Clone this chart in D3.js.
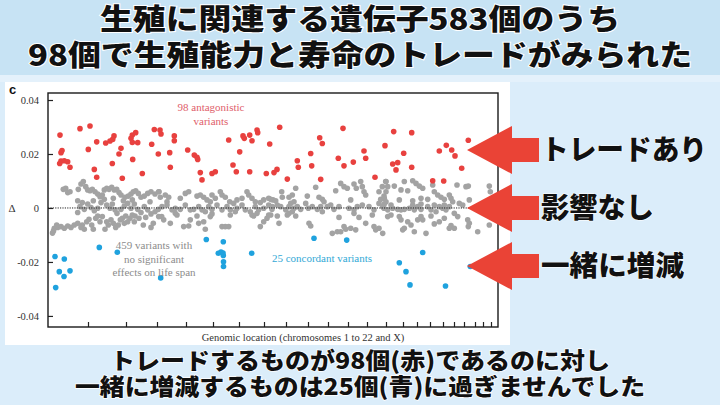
<!DOCTYPE html>
<html><head><meta charset="utf-8">
<script src="https://cdn.jsdelivr.net/npm/d3@7/dist/d3.min.js"></script>
<style>html,body{margin:0;padding:0;background:#d9ecf9;}svg{display:block;}</style>
</head><body>
<script>
// ---- DATA (x: genomic position index 0-450, y: Δ in units of 1e-3) ----
const chromBounds = [40,78,109,138,165,191,216,238,260,280,300,319,338,355,369,382,395,406,416,427,435,443];
const yTickValues = [40,20,0,-20,-40];
const yTickLabels = ["0.04","0.02","0","-0.02","-0.04"];

const antagonistic = [
[12,27.0],[32,29.4],[42,30.4],[48.7,24.5],[57.7,24.1],[62,24.8],[66,26.7],[64.7,25.4],[40.3,21.7],[73,22.1],
[71,20.0],[13,20.5],[14,21.3],[11.7,16.5],[13,17.4],[16.3,17.5],[19.7,17.1],[22,15.1],[46.3,14.3],[48.7,11.4],
[64.3,16.5],[74.3,11.0],[84.7,18.0],[84.3,27.0],[87.7,27.9],[83,25.8],[84.3,24.3],[89.7,24.2],[94.3,12.8],[103.7,23.6],
[106.3,29.1],[112,28.9],[113,27.4],[110.3,20.0],[121.7,20.5],[126.3,26.7],[126.3,24.9],[122.3,15.1],[139.7,21.5],[146.3,19.6],
[149,18.8],[149.7,18.0],[152.3,13.1],[154,10.4],[164,12.8],[167.3,13.4],[180.7,25.2],[185,15.9],[188.3,13.4],[191.7,20.8],
[195,26.7],[196.3,25.8],[201.7,27.0],[204,24.9],[201.7,13.4],[209,28.9],[209.7,27.9],[221.7,23.7],[218.3,12.8],[226,13.1],
[229,14.3],[231.7,29.9],[239.3,10.7],[249.3,17.5],[250.3,15.1],[262.7,20.2],[263.7,15.6],[271.7,26.0],[274.3,23.9],[272.7,10.6],
[290.3,18.4],[295,29.5],[296,15.6],[305.3,17.0],[316,21.1],[317.7,18.4],[327,11.4],[337,23.1],[345.7,28.3],[363.7,27.9],
[355.7,20.3],[344.7,16.3],[349.7,16.8],[348,14.1],[363.7,15.1],[384.7,10.1],[395.7,10.0],[391.3,21.1],[398.3,23.2],[403.7,21.5],
[407,19.3],[413.7,14.7],[420.3,25.1]
];

const concordant = [
[7,-18.0],[16.3,-18.9],[11.3,-23.6],[16,-25.4],[22,-23.3],[7.7,-29.5],[51.3,-14.6],[69.3,-16.4],[112.7,-25.9],[158.3,-11.7],
[170.3,-16.8],[173,-16.3],[175.3,-12.5],[175,-16.7],[175.3,-17.6],[175.5,-19.9],[175.5,-21.7],[203.7,-16.8],[266,-11.2],[298.7,-11.9],
[351.3,-20.3],[358,-23.6],[362,-28.5],[374.7,-16.5],[397.5,-28.9],[422.3,-21.7]
];

const neutral = [
[15.3,6.9],[17.7,7.3],[19.7,5.7],[22,6.0],[30.3,6.9],[33,8.9],[35.3,9.8],[37.7,7.9],[39.7,6.7],[42,6.4],
[44.3,6.9],[47,6.0],[49.7,5.2],[52,4.2],[54.3,4.8],[56.3,6.7],[58.7,7.3],[61,6.9],[63.7,7.7],[66.3,6.7],
[68.7,6.9],[71,5.7],[73,4.8],[77,4.0],[80.3,4.4],[83,5.2],[85.3,6.0],[87.7,6.4],[90.3,5.4],[93,4.0],
[96.3,4.4],[99.7,5.4],[103,6.0],[107,5.2],[111,6.0],
[29.7,2.7],[32,0.5],[36.3,-0.5],[39.7,1.5],[43,0.2],[46.3,-1.0],[49.7,-0.1],[53,2.0],[56.3,3.2],[58.7,1.1],
[62,-0.1],[64.3,1.5],[67,-0.7],[69,-2.0],[73,-0.5],[76.3,0.7],[79.7,1.7],[83,-0.1],[86.3,1.5],[89.7,-0.5],
[93,-1.7],[96.3,0.5],[99.7,-0.7],[103,-2.2],[107,-1.4],[110.3,-0.5],[34.3,2.0],[45.3,2.7],[65.3,3.6],[75.3,2.7],
[84.3,3.0],[102,2.3],
[6.3,-7.5],[9.7,-7.2],[13,-6.9],[16.3,-7.5],[19.7,-6.7],[23,-7.2],[26.3,-6.3],[29.7,-5.7],[29.7,-1.7],[34.3,-6.3],
[36.3,-7.9],[38.7,-5.1],[41,-4.2],[43.7,-6.3],[45.3,-7.9],[47.7,-3.8],[49.7,-3.0],[52,-5.1],[54.3,-3.2],[57,-7.9],
[60.3,-6.3],[63,-4.4],[65.3,-5.7],[67.7,-7.2],[70.3,-6.3],[72.3,-4.4],[74.3,-3.8],[76.3,-5.7],[77.7,-3.0],[79.7,-5.1],
[82,-3.8],[84.3,-2.6],[87,-3.0],[91,-3.8],[95.3,-6.3],[97.7,-3.5],[103,-7.2],[105.3,-5.7],[8.7,-6.3],[33,-7.2],
[58.7,-5.1],[86.3,-5.1],[113.7,-3.2],[4.5,-9.3],[5.5,-8.5],
[110.7,6.0],[112.3,4.0],[117.3,4.8],[120.7,4.0],[119,2.3],[132.3,3.6],[137.3,5.4],[140.7,6.0],[149,4.4],[152.3,4.8],
[155.7,4.0],[159,3.0],[162.3,2.3],[164,4.8],[167.3,3.6],[172.3,6.0],[174,4.8],[177.3,4.0],[181.7,2.3],[185.7,1.7],
[189,3.0],[194,3.6],[199,6.0],[200.7,4.8],[204,3.6],[207.3,2.3],[212.3,2.0],[215.7,3.0],[220.7,3.6],[225,3.0],
[114,0.5],[119,1.1],[124,-0.7],[127.3,-0.1],[132.3,-0.5],[137.3,1.1],[142.3,-0.7],[145.7,-0.5],[150.7,0.5],[154,-0.7],
[157.3,-1.4],[160.7,0.5],[164,-0.5],[169,1.1],[174,-0.7],[179,0.5],[182.3,-0.7],[189,-0.1],[194,1.1],[197.3,-0.7],
[202.3,-1.4],[207.3,0.5],[210.7,-0.7],[215.7,-0.1],[220.7,1.1],[224,-0.5],
[110.7,-3.2],[115.7,-4.4],[122.3,-5.7],[127.3,-2.0],[129,-2.6],[135.7,-6.9],[140.7,-6.7],[142.3,-4.4],[149,-3.0],[150.7,-5.7],
[155.7,-5.1],[157.3,-7.9],[162.3,-3.2],[164,-2.2],[174,-6.9],[177.3,-6.9],[180.7,-6.9],[182.3,-2.6],[187.3,-1.4],[204,-2.6],
[205.7,-3.0],[212.3,-6.9],[215.7,-5.1],[219,-3.8],[220.7,-2.6],[209,-2.0],
[222.7,3.2],[227.7,2.7],[233.7,6.0],[234.3,4.0],[241,4.0],[244.3,4.8],[247.7,7.3],[246,2.3],[259.3,4.4],[267.7,7.7],
[271,4.0],[274.3,3.2],[276,2.3],[287.7,6.4],[292.7,9.1],[296,7.9],[299.3,7.3],[302.7,3.0],[306,8.9],[308.3,7.3],
[312.7,9.8],[314.3,7.9],[316,6.0],[317.7,4.8],[331,6.0],[334.3,7.9],[337.7,9.8],[332.7,3.2],[336,4.4],
[224.3,0.5],[229.3,1.1],[232.7,0.5],[237.7,-0.7],[241,0.5],[242.7,1.7],[246,-0.1],[249.3,0.5],[252.7,-0.5],[257.7,1.7],
[260.3,-0.1],[264.3,0.5],[269.3,-0.5],[272.7,0.5],[274.3,-1.4],[279.3,0.5],[282.7,1.1],[286,-0.5],[291,0.5],[301,-0.1],
[306,-0.7],[309.3,0.5],[314.3,1.1],[321,0.5],[326,-0.7],[331,1.7],[336,-0.1],
[222.7,-2.6],[231,-5.7],[229.3,-3.0],[239.3,-2.6],[241,-2.0],[244.3,-1.4],[247.7,-3.0],[261,-5.7],[262.7,-6.7],[284.3,-9.4],
[289.3,-8.8],[291,-3.5],[292.7,-8.8],[296,-6.9],[297.7,-7.9],[302.7,-7.5],[306,-2.0],[307.7,-8.1],[311,-3.5],[317.7,-5.7],
[326,-6.9],[327.7,-8.1],[331,-7.5],[324.3,-2.6],
[338,9.8],[339.7,7.9],[338,6.0],[346.3,8.1],[353,6.7],[356.3,9.8],[359.7,6.4],[364.7,10.1],[368,9.1],[371.3,8.1],
[374.7,7.3],[384.7,8.5],[386.3,6.0],[389.7,4.8],[393,4.0],[396.3,3.2],[401.3,4.8],[403,3.6],[404.7,2.3],[409,8.5],
[411.3,1.7],[418,7.9],[420.3,8.1],[421.3,3.0],[441.3,8.1],[442.3,6.0],[336.3,3.6],[338,2.3],[351.3,3.0],[364.7,2.7],
[373,3.6],[379.7,3.2],
[334.7,0.5],[339.7,-0.7],[344.7,-0.1],[349.7,-0.5],[353,-0.7],[356.3,-0.5],[361.3,-0.1],[366.3,-0.7],[369.7,0.5],[373,-0.5],
[379.7,0.5],[383,-0.7],[388,-1.4],[391.3,0.5],[394.7,-0.1],[398,-0.7],[401.3,0.5],[406.3,-2.0],[414.7,1.1],[336.3,1.5],
[343,1.1],[364.7,1.1],[386.3,1.1],[396.3,1.1],[373,1.5],
[334.7,-9.4],[339.7,-3.2],[343,-2.6],[351.3,-3.2],[353,-4.4],[354.7,-8.1],[356.3,-7.5],[359.7,-5.1],[363,-6.3],[366.3,-8.8],
[369.7,-4.4],[373,-3.2],[374.7,-4.4],[378,-9.4],[383,-3.0],[386.3,-5.9],[391.3,-5.1],[396.3,-3.8],[401.3,-7.5],[403,-6.5],
[406.3,-7.5],[409.7,-3.2],[419.7,-4.4],[420.3,-6.9],[421.3,-5.7],[429.7,-8.8],[441.3,-6.3]
];

const titleLines = ["生殖に関連する遺伝子583個のうち","98個で生殖能力と寿命のトレードがみられた"];
const footerLines = ["トレードするものが98個(赤)であるのに対し","一緒に増減するものは25個(青)に過ぎませんでした"];
const sideLabels = ["トレードあり","影響なし","一緒に増減"];
const sideLabelDelta = [21.5, 0, -21.5];

// ---- DRAW ----
const W = 720, H = 405;
const svg = d3.select("body").append("svg").attr("width", W).attr("height", H);

svg.append("rect").attr("width",W).attr("height",H).attr("fill","#dbedfa");
svg.append("rect").attr("width",W).attr("height",75).attr("fill","#c7e3f4");
svg.append("rect").attr("y",75).attr("width",W).attr("height",7).attr("fill","#e4f1fb");

// panel
svg.append("rect").attr("x",5).attr("y",82).attr("width",505).attr("height",263).attr("fill","#ffffff");

const x = d3.scaleLinear().domain([0,450]).range([48,498]);
const y = d3.scaleLinear().domain([-44.1,42.6]).range([327,93]);

const serif = "'Liberation Serif','DejaVu Serif',serif";
const jp = "'Noto Sans CJK JP','Noto Sans CJK SC',sans-serif";

// axes
const yAxis = d3.axisLeft(y).tickValues(yTickValues).tickSize(-5).tickSizeOuter(0)
  .tickFormat((d,i)=>yTickLabels[i]).tickPadding(9);
const gy = svg.append("g").attr("transform","translate(48,0)").call(yAxis);
gy.select(".domain").remove();
gy.selectAll("line").attr("stroke","#222").attr("stroke-width",1.2);
gy.selectAll("text").attr("font-family",serif).attr("font-size",10.5).attr("fill","#333");

const xAxis = d3.axisBottom(x).tickValues(chromBounds).tickSize(-5).tickSizeOuter(0).tickFormat("");
const gx = svg.append("g").attr("transform","translate(0,327)").call(xAxis);
gx.select(".domain").remove();
gx.selectAll("line").attr("stroke","#222").attr("stroke-width",1.2);

// frame
svg.append("rect").attr("x",x(0)).attr("y",y(42.6)).attr("width",x(450)-x(0)).attr("height",y(-44.1)-y(42.6))
  .attr("fill","none").attr("stroke","#1a1a1a").attr("stroke-width",1.4);

// points
const r = 2.8;
svg.append("g").selectAll("circle").data(neutral).join("circle")
  .attr("cx",d=>x(d[0])).attr("cy",d=>y(d[1])).attr("r",r).attr("fill","#a3a3a3");
svg.append("g").selectAll("circle").data(antagonistic).join("circle")
  .attr("cx",d=>x(d[0])).attr("cy",d=>y(d[1])).attr("r",r).attr("fill","#e8413f");
svg.append("g").selectAll("circle").data(concordant).join("circle")
  .attr("cx",d=>x(d[0])).attr("cy",d=>y(d[1])).attr("r",r).attr("fill","#1fa2de");

// zero line
svg.append("line").attr("x1",x(0)).attr("x2",x(450)).attr("y1",y(0)).attr("y2",y(0))
  .attr("stroke","#222").attr("stroke-width",1).attr("stroke-dasharray","1.2,1.2");

// panel labels
svg.append("text").attr("x",9).attr("y",94).text("c").attr("font-family","'Liberation Sans',Arial,sans-serif")
  .attr("font-weight","bold").attr("font-size",13).attr("fill","#111");
svg.append("text").attr("x",12).attr("y",y(0)+4).text("Δ").attr("font-family",serif).attr("font-size",11).attr("fill","#333").attr("text-anchor","middle");
svg.append("text").attr("x",303).attr("y",341).text("Genomic location (chromosomes 1 to 22 and X)")
  .attr("font-family",serif).attr("font-size",10.5).attr("fill","#333").attr("text-anchor","middle");

const ann = (lines, cx, y0, dy, col) => lines.forEach((t,i)=>svg.append("text").attr("x",cx).attr("y",y0+i*dy).text(t)
  .attr("font-family",serif).attr("font-size",11).attr("fill",col).attr("text-anchor","middle"));
ann(["98 antagonistic","variants"], 211, 111, 14, "#e0606a");
ann(["459 variants with","no significant","effects on life span"], 154, 249, 13.5, "#8c8c8c");
ann(["25 concordant variants"], 322, 262, 0, "#33a9d6");

// arrows
const arrowY = sideLabelDelta.map(d=>y(d));
arrowY.forEach(cy=>{
  const tip = 467, hb = 512, se = 539, hh = 24, sh = 12;
  svg.append("path").attr("d",`M${tip},${cy} L${hb},${cy-hh} L${hb},${cy-sh} L${se},${cy-sh} L${se},${cy+sh} L${hb},${cy+sh} L${hb},${cy+hh} Z`)
    .attr("fill","#ea4336");
});

// side labels
const sideWidths = [166, 113, 143];
sideLabels.forEach((t,i)=>svg.append("text").attr("x",541).attr("y",arrowY[i]+10).text(t)
  .attr("textLength",sideWidths[i]).attr("lengthAdjust","spacingAndGlyphs")
  .attr("font-family",jp).attr("font-weight",900).attr("font-size",28).attr("fill","#111")
  .attr("stroke","#fff").attr("stroke-width",1).attr("paint-order","stroke"));

// titles
const titleWidths = [520, 664];
titleLines.forEach((t,i)=>svg.append("text").attr("x",360).attr("y",30+i*36).text(t)
  .attr("textLength",titleWidths[i]).attr("lengthAdjust","spacingAndGlyphs")
  .attr("text-anchor","middle").attr("font-family",jp).attr("font-weight",900).attr("font-size",29).attr("fill","#111")
  .attr("stroke","#fff").attr("stroke-width",2).attr("paint-order","stroke"));
const footWidths = [500, 570];
footerLines.forEach((t,i)=>svg.append("text").attr("x",360).attr("y",369+i*26).text(t)
  .attr("textLength",footWidths[i]).attr("lengthAdjust","spacingAndGlyphs")
  .attr("text-anchor","middle").attr("font-family",jp).attr("font-weight",900).attr("font-size",23).attr("fill","#111")
  .attr("stroke","#fff").attr("stroke-width",1.5).attr("paint-order","stroke"));
</script>
</body></html>
